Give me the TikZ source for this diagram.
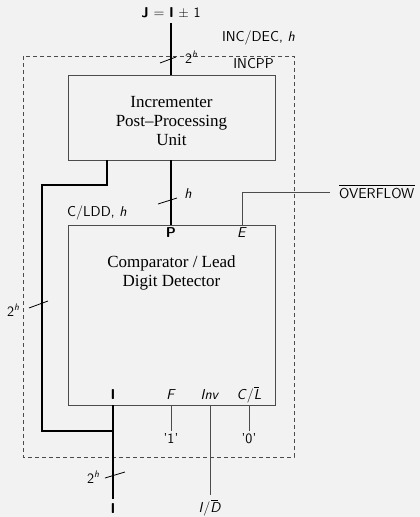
\documentclass[tikz,border=0pt]{standalone}
\usepackage{fontspec}
\newfontfamily\timesfont[Ligatures=TeX]{Liberation Serif}
\newcommand{\vi}[1]{\textit{#1}}
\begin{document}
\begin{tikzpicture}[x=1pt,y=-1pt,
  box/.style={draw=black!70,line width=0.9pt,inner sep=0pt},
  thin/.style={draw=black!70,line width=0.9pt},
  bus/.style={draw=black,line width=2pt},
  lbl/.style={font=\fontsize{14.3}{16}\selectfont\sffamily,inner sep=1pt},
  serif/.style={font=\fontsize{17}{19}\selectfont\timesfont,align=center},
  slash/.style={draw=black,line width=0.8pt}]
\fill[black!5] (0,0) rectangle (420,517);
\useasboundingbox (0,0) rectangle (420,517);
% dashed outer box
\draw[black!70,line width=0.8pt,dash pattern=on 4pt off 3pt] (23,56) rectangle (294,457);
\node[lbl,anchor=east] (incpp) at (275,64) {INCPP};
% boxes
\node[box,minimum width=207pt,minimum height=85pt] (ipp) at (171.5,117.5) {};
\node[serif] (ipptext) at (171.5,121) {Incrementer\\Post–Processing\\Unit};
\node[box,minimum width=207pt,minimum height=180pt] (cldd) at (171.5,315) {};
\node[serif] (cldtext) at (171.5,273) {Comparator / Lead\\Digit Detector};
% coordinates
\coordinate (jtop) at (171,23);
\coordinate (ippTop) at (171,75);
\coordinate (ippBot) at (171,160);
\coordinate (ippBotL) at (107,160);
\coordinate (bendA) at (107,185);
\coordinate (bendB) at (42,185);
\coordinate (bendC) at (42,431);
\coordinate (join) at (113,431);
\coordinate (clddTopP) at (171,225);
\coordinate (clddTopE) at (242,225);
\coordinate (ovA) at (242,192);
\coordinate (ovB) at (330,192);
\coordinate (clddBotI) at (113,405);
\coordinate (ibot) at (113,499);
\coordinate (clddBotF) at (171,405);
\coordinate (fend) at (171,431);
\coordinate (clddBotInv) at (210,405);
\coordinate (invend) at (210,495);
\coordinate (clddBotC) at (249,405);
\coordinate (cend) at (249,431);
% buses
\draw[bus] (jtop) -- (ippTop);
\draw[bus] (ippBot) -- (clddTopP);
\draw[bus] (ippBotL) -- (bendA) -- (bendB) -- (bendC) -- (join);
\draw[bus] (clddBotI) -- (ibot);
% thin lines
\draw[thin] (clddTopE) -- (ovA) -- (ovB);
\draw[thin] (clddBotF) -- (fend);
\draw[thin] (clddBotInv) -- (invend);
\draw[thin] (clddBotC) -- (cend);
% slashes
\draw[slash] (160,63) -- (176,57);
\draw[slash] (158,204) -- (177,198);
\draw[slash] (29,308) -- (48,301);
\draw[slash] (105,478) -- (125,472);
% labels
\node[lbl] (jlbl) at (171,13) {\textbf{J} = \textbf{I} {\fontspec{Latin Modern Sans}±} 1};
\node[lbl,anchor=east] (incdec) at (296,38) {INC/DEC, \vi{h}};
\node[lbl] (w1) at (191,57) {2\raisebox{0.9ex}{\fontsize{9.5}{10}\selectfont\vi{h}}};
\node[lbl] (w2) at (188,194) {\vi{h}};
\node[lbl,anchor=west] (cl) at (66,213) {C/LDD, \vi{h}};
\node[lbl,anchor=west] (ov) at (338,192) {\rlap{\rule[2.05ex]{76pt}{0.5pt}}OVERFLOW};
\node[lbl] (P) at (171,233) {\textbf{P}};
\node[lbl] (E) at (242,233) {\vi{E}};
\node[lbl] (w3) at (13,310) {2\raisebox{0.9ex}{\fontsize{9.5}{10}\selectfont\vi{h}}};
\node[lbl] (Ii) at (113,395) {\textbf{I}};
\node[lbl] (F) at (171,395) {\vi{F}};
\node[lbl] (Inv) at (210,395) {\vi{Inv}};
\node[lbl] (CL) at (249,395) {\vi{C}/\vi{\rlap{\kern0.5pt\rule[1.85ex]{5pt}{0.5pt}}L}};
\node[lbl] (one) at (171,439) {'1'};
\node[lbl] (zero) at (249,439) {'0'};
\node[lbl] (w4) at (93,477) {2\raisebox{0.9ex}{\fontsize{9.5}{10}\selectfont\vi{h}}};
\node[lbl] (Ib) at (113,509) {\textbf{I}};
\node[lbl] (ID) at (210,508) {\vi{I}/\vi{\rlap{\kern1pt\rule[1.85ex]{7pt}{0.5pt}}D}};
\end{tikzpicture}
\end{document}
